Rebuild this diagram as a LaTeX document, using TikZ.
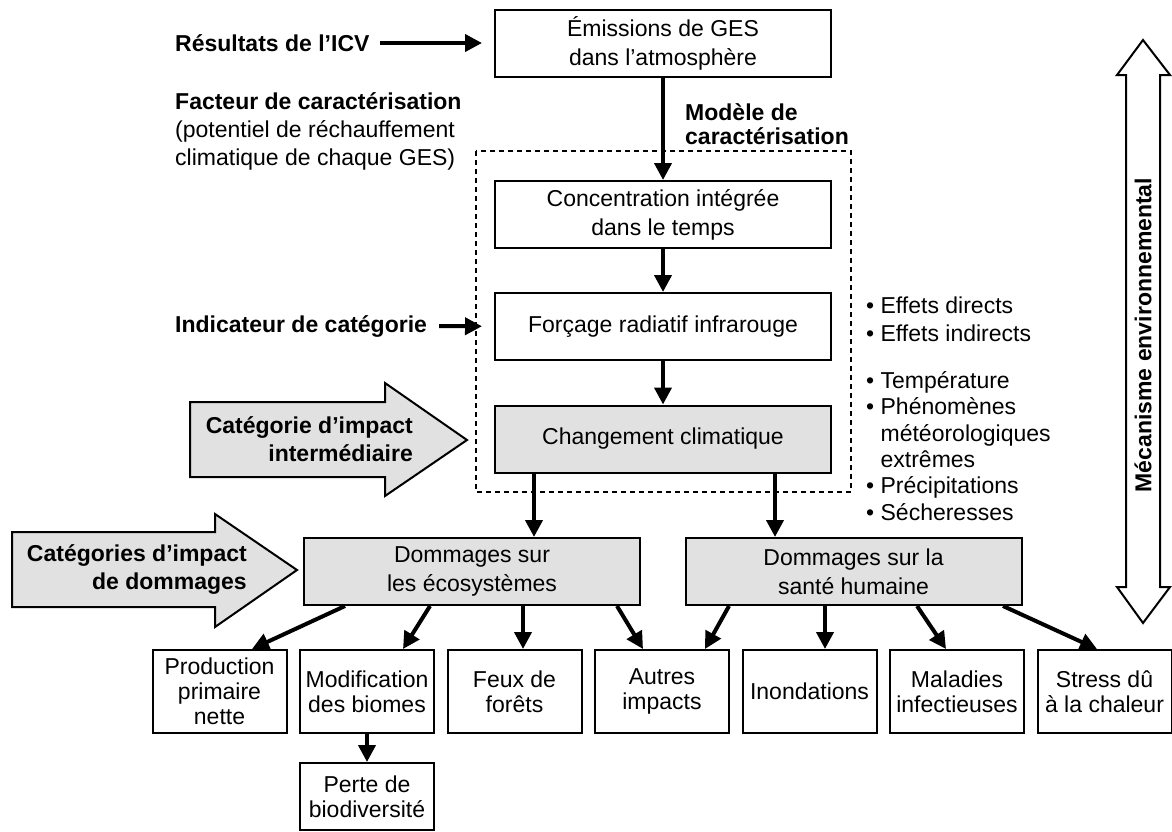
\documentclass[tikz,border=0pt]{standalone}
\usepackage{fontspec}
\setmainfont{Liberation Sans}
\usetikzlibrary{arrows.meta}
\definecolor{grisclair}{RGB}{225,225,225}
\begin{document}
\begin{tikzpicture}[x=1pt, y=-1pt,
	every node/.style={font=\fontsize{23}{26}\selectfont},
	boite/.style={draw, line width=2pt, minimum width=336pt, minimum height=67pt, align=center, inner sep=0pt, font=\fontsize{23}{29}\selectfont},
	grise/.style={boite, fill=grisclair},
	petite/.style={draw, line width=2pt, minimum width=134pt, minimum height=83pt, align=center, inner sep=0pt, font=\fontsize{23}{25}\selectfont},
	titre/.style={font=\fontsize{23}{28}\selectfont\bfseries, align=left, inner sep=0pt},
	puces/.style={align=left, inner sep=0pt},
	fleche/.style={line width=4pt, -{Triangle[length=17pt,width=17pt]}},
	grosse/.style={draw, line width=2pt, fill=grisclair}]
	\useasboundingbox (0,0) rectangle (1172,831);
	\node[boite] (emis) at (663,43) {Émissions de GES\\dans l’atmosphère};
	\node[boite] (conc) at (663,214.5) {Concentration intégrée\\dans le temps};
	\node[boite] (forc) at (663,326.5) {Forçage radiatif infrarouge};
	\node[grise] (chan) at (663,439) {Changement climatique};
	\node[grise] (eco) at (472,571.5) {Dommages sur\\les écosystèmes};
	\node[grise] (sante) at (853.5,571.5) {Dommages sur la\\santé humaine};
	\node[petite] (prod) at (219.5,691.5) {Production\\primaire\\nette};
	\node[petite] (modif) at (367,691.5) {Modification\\des biomes};
	\node[petite] (feux) at (514.5,691.5) {Feux de\\forêts};
	\node[petite] (autres) at (662,691.5) {Autres\\impacts};
	\node[petite] (inond) at (809.5,691.5) {Inondations};
	\node[petite] (malad) at (957,691.5) {Maladies\\infectieuses};
	\node[petite] (stress) at (1104.5,691.5) {Stress dû\\à la chaleur};
	\node[petite, minimum height=67pt] (perte) at (367,796.5) {Perte de\\biodiversité};
	\draw[line width=1.2pt, dash pattern=on 5pt off 4pt] (476,151) rectangle (851,492);
	\node[titre, anchor=west] (res) at (175,43) {Résultats de l’ICV};
	\node[puces, anchor=west, font=\fontsize{23}{28}\selectfont] (fact) at (175,131) {\textbf{Facteur de caractérisation}\\(potentiel de réchauffement\\climatique de chaque GES)};
	\node[titre, anchor=west, font=\fontsize{23}{24}\selectfont\bfseries] (modele) at (685,124) {Modèle de\\caractérisation};
	\node[titre, anchor=west] (indic) at (175,326) {Indicateur de catégorie};
	\node[puces, anchor=west, font=\fontsize{23}{28}\selectfont] (effets) at (866,319) {• Effets directs\\• Effets indirects};
	\node[puces, anchor=west, font=\fontsize{23}{26.4}\selectfont] (climat) at (866,446) {• Température\\• Phénomènes\\\hphantom{• }météorologiques\\\hphantom{• }extrêmes\\• Précipitations\\• Sécheresses};
	% grosses fleches
	\draw[grosse] (190,402) -- (385,402) -- (385,383) -- (467,440) -- (385,496) -- (385,477) -- (190,477) -- cycle;
	\node[titre, align=right, anchor=east] (inter) at (413,439) {Catégorie d’impact\\intermédiaire};
	\draw[grosse] (12,532) -- (215,532) -- (215,514) -- (297,570) -- (215,627) -- (215,607) -- (12,607) -- cycle;
	\node[titre, align=right, anchor=east] (domm) at (247,569) {Catégories d’impact\\de dommages};
	\draw[line width=2pt, fill=white] (1143,40) -- (1170,75) -- (1160,75) -- (1160,587) -- (1170,587) -- (1143,623) -- (1117,587) -- (1126,587) -- (1126,75) -- (1117,75) -- cycle;
	\node[titre, rotate=90] (meca) at (1143,335) {Mécanisme environnemental};
	\draw[fleche, shorten <=10pt, shorten >=12pt] (res) -- (emis);
	\draw[fleche, shorten <=12pt, shorten >=12pt] (indic) -- (forc);
	\draw[fleche] (emis) -- (conc);
	\draw[fleche] (conc) -- (forc);
	\draw[fleche] (forc) -- (chan);
	\draw[fleche] ([xshift=-129pt]chan.south) -- ([xshift=-129pt]chan.south |- eco.north);
	\draw[fleche] ([xshift=112pt]chan.south) -- ([xshift=112pt]chan.south |- sante.north);
	\draw[fleche] ([xshift=-127pt]eco.south) -- ([xshift=32.5pt]prod.north);
	\draw[fleche] ([xshift=-42pt]eco.south) -- ([xshift=36pt]modif.north);
	\draw[fleche] ([xshift=51pt]eco.south) -- ([xshift=8.5pt]feux.north);
	\draw[fleche] ([xshift=145pt]eco.south) -- ([xshift=-19pt]autres.north);
	\draw[fleche] ([xshift=-124.5pt]sante.south) -- ([xshift=43pt]autres.north);
	\draw[fleche] ([xshift=-28.5pt]sante.south) -- ([xshift=15.5pt]inond.north);
	\draw[fleche] ([xshift=63.5pt]sante.south) -- ([xshift=-11pt]malad.north);
	\draw[fleche] ([xshift=149.5pt]sante.south) -- ([xshift=-7.5pt]stress.north);
	\draw[fleche] (modif) -- (perte);
\end{tikzpicture}
\end{document}
